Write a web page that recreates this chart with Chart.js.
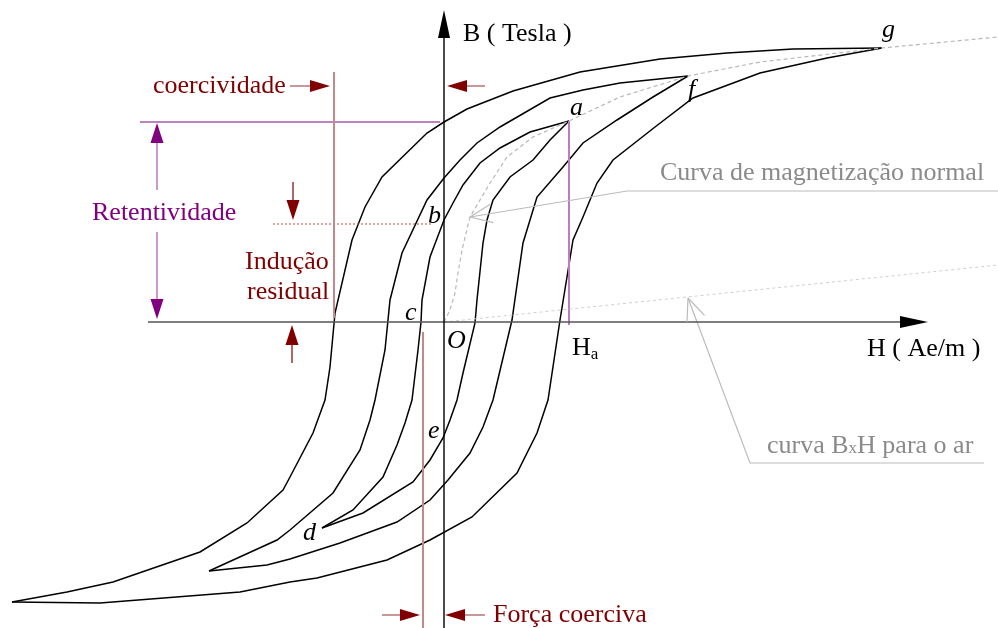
<!DOCTYPE html>
<html>
<head>
<meta charset="utf-8">
<title>Curvas de histerese</title>
<script src="https://cdn.jsdelivr.net/npm/chart.js@4/dist/chart.umd.min.js"></script>
<style>
  html, body { margin: 0; padding: 0; background: #fff; }
  canvas { display: block; }
</style>
</head>
<body>
<canvas id="hyst" width="998" height="628"></canvas>
<script>
// Field strength H (horizontal) and flux density B (vertical), in drawing units,
// with the origin O at the crossing of the two axes.

// Major loop, from g down to negative saturation and back up
const largeLoopFall = [[438,274],[349,273],[283,269],[216,263],[136,250],[69,231],[23,213],[0,200],[-17,189],[-62,145],[-79,115],[-92,82],[-109,9],[-114,-45],[-119,-78],[-131,-111],[-154,-155],[-161,-168],[-197,-201],[-244,-230],[-331,-260],[-377,-270],[-432,-280]];
const largeLoopRise = [[-432,-280],[-344,-281],[-204,-270],[-154,-260],[-127,-256],[-57,-238],[-14,-218],[28,-195],[73,-151],[93,-111],[104,-78],[116,2],[129,82],[139,105],[153,139],[169,162],[211,195],[249,224],[316,249],[383,264],[438,274]];

// Intermediate loop, tip at f
const midLoopFall = [[244,246],[176,239],[139,232],[106,224],[56,195],[33,179],[16,162],[0,144],[-17,122],[-42,69],[-54,22],[-59,-28],[-69,-78],[-74,-98],[-84,-128],[-111,-171],[-154,-208],[-167,-218],[-235,-249]];
const midLoopRise = [[-235,-249],[-177,-243],[-154,-237],[-104,-221],[-47,-200],[-14,-178],[4,-158],[26,-131],[39,-105],[49,-78],[68,2],[79,79],[86,102],[93,125],[119,155],[139,179],[173,202],[209,225],[244,246]];

// Minor loop a-b-c-d-e-a
const smallLoopFall = [[125,201],[86,190],[56,174],[36,159],[19,137],[9,119],[0,102],[-14,65],[-22,22],[-23,0],[-26,-28],[-32,-78],[-39,-101],[-47,-123],[-61,-155],[-91,-188],[-122,-206]];
const smallLoopRise = [[-122,-206],[-81,-191],[-31,-160],[-14,-138],[-1,-116],[6,-98],[13,-78],[19,-51],[31,-1],[33,22],[39,79],[43,102],[49,122],[66,145],[89,162],[106,182],[125,201]];

// Normal magnetization curve O-a-f-g and the B x H line of air
const normalCurve = [[0,0],[6,12],[11,29],[14,49],[18,72],[26,105],[46,139],[63,165],[89,185],[125,201],[176,225],[244,246],[316,260],[438,274],[554,285]];
const airLine = [[0,0],[554,57]];

// Reference marks
const coercivityMark = [[-110,250],[-110,4]];
const coerciveForceMark = [[-21,-10],[-21,-306]];
const retentivityMark = [[-304,200],[-4,200]];
const residualMark = [[-171,98],[-11,98]];
const haMark = [[125,201],[125,-3]];
const normalLeader = [[554,131],[183,131],[26,105]];
const airLeader = [[540,-141],[306,-141],[244,24]];

const pts = a => a.map(([x, y]) => ({ x, y }));

function lineSet(data, color, width, dash) {
  return {
    data: pts(data), showLine: true, fill: false,
    borderColor: color, borderWidth: width, borderDash: dash || [],
    pointRadius: 0, tension: 0, borderCapStyle: 'butt', borderJoinStyle: 'miter'
  };
}

const DARKRED = '#800000';
const PURPLE = '#800080';
const GREY_TEXT = '#8a8a8a';

// Arrows: shaft from -> to, filled head ending at "to"
const arrows = [
  { from: [-296, 0], to: [484, 0], shaft: '#555', head: '#000', len: 28, half: 6, w: 1.6 },
  { from: [0, -306], to: [0, 312], shaft: '#000', head: '#000', len: 28, half: 6, w: 1.4 },
  { from: [-154, 236], to: [-114, 236], shaft: '#b06a6a', head: DARKRED, len: 20, half: 6, w: 1.4 },
  { from: [41, 236], to: [3, 236], shaft: '#b06a6a', head: DARKRED, len: 20, half: 6, w: 1.4 },
  { from: [-287, 132], to: [-287, 199], shaft: '#b070b0', head: PURPLE, len: 20, half: 6.5, w: 1.4 },
  { from: [-287, 90], to: [-287, 3], shaft: '#b070b0', head: PURPLE, len: 20, half: 6.5, w: 1.4 },
  { from: [-151, 140], to: [-151, 102], shaft: DARKRED, head: DARKRED, len: 20, half: 6.5, w: 1.2 },
  { from: [-152, -41], to: [-152, -3], shaft: DARKRED, head: DARKRED, len: 20, half: 6.5, w: 1.2 },
  { from: [-62, -293], to: [-24, -293], shaft: '#b06a6a', head: DARKRED, len: 20, half: 6, w: 1.4 },
  { from: [41, -293], to: [1, -293], shaft: '#b06a6a', head: DARKRED, len: 20, half: 6, w: 1.4 }
];

// Open arrow tips on the leader lines (tip, point the barbs open towards)
const openTips = [
  { tip: [26, 105], back: [183, 131], color: '#bbb' },
  { tip: [244, 24], back: [306, -141], color: '#bbb' }
];

const SERIF = "'Liberation Serif', 'Times New Roman', serif";
const labels = [
  { parts: [['B ( Tesla )', 26]], at: [19, 281], color: '#000' },
  { parts: [['H ( Ae/m )', 26]], at: [423, -34], color: '#000' },
  { parts: [['O', 26, true]], at: [3, -26], color: '#000' },
  { parts: [['H', 26], ['a', 17, false, 4]], at: [128, -33], color: '#000' },
  { parts: [['a', 26, true]], at: [126, 207], color: '#000' },
  { parts: [['f', 26, true]], at: [244, 225], color: '#000' },
  { parts: [['g', 26, true]], at: [438, 285], color: '#000' },
  { parts: [['b', 26, true]], at: [-16, 99], color: '#000' },
  { parts: [['c', 26, true]], at: [-39, 2], color: '#000' },
  { parts: [['d', 26, true]], at: [-141, -218], color: '#000' },
  { parts: [['e', 26, true]], at: [-16, -116], color: '#000' },
  { parts: [['coercividade', 26]], at: [-291, 229], color: DARKRED },
  { parts: [['Indução', 26]], at: [-199, 53], color: DARKRED },
  { parts: [['residual', 26]], at: [-197, 23], color: DARKRED },
  { parts: [['Retentividade', 26]], at: [-352, 102], color: PURPLE },
  { parts: [['Curva de magnetização normal', 26]], at: [216, 142], color: GREY_TEXT },
  { parts: [['curva B', 26], ['x', 17], ['H para o ar', 26]], at: [323, -131], color: GREY_TEXT },
  { parts: [['Força coerciva', 26]], at: [49, -300], color: DARKRED }
];

const annotationPlugin = {
  id: 'annotations',
  afterDatasetsDraw(chart) {
    const { ctx } = chart;
    const X = v => chart.scales.x.getPixelForValue(v);
    const Y = v => chart.scales.y.getPixelForValue(v);
    ctx.save();

    arrows.forEach(a => {
      const x0 = X(a.from[0]), y0 = Y(a.from[1]);
      const x1 = X(a.to[0]), y1 = Y(a.to[1]);
      const dx = x1 - x0, dy = y1 - y0, d = Math.hypot(dx, dy);
      const ux = dx / d, uy = dy / d;
      const bx = x1 - ux * a.len, by = y1 - uy * a.len;
      ctx.strokeStyle = a.shaft; ctx.lineWidth = a.w;
      ctx.beginPath(); ctx.moveTo(x0, y0); ctx.lineTo(bx + ux, by + uy); ctx.stroke();
      ctx.fillStyle = a.head;
      ctx.beginPath();
      ctx.moveTo(x1, y1);
      ctx.lineTo(bx - uy * a.half, by + ux * a.half);
      ctx.lineTo(bx + uy * a.half, by - ux * a.half);
      ctx.closePath(); ctx.fill();
    });

    openTips.forEach(o => {
      const x1 = X(o.tip[0]), y1 = Y(o.tip[1]);
      const x0 = X(o.back[0]), y0 = Y(o.back[1]);
      const ang = Math.atan2(y0 - y1, x0 - x1);
      ctx.strokeStyle = o.color; ctx.lineWidth = 1.2;
      ctx.beginPath();
      [0.4, -0.4].forEach(s => {
        ctx.moveTo(x1, y1);
        ctx.lineTo(x1 + 24 * Math.cos(ang + s), y1 + 24 * Math.sin(ang + s));
      });
      ctx.stroke();
    });

    ctx.textBaseline = 'alphabetic';
    ctx.textAlign = 'left';
    labels.forEach(l => {
      let x = X(l.at[0]);
      const y = Y(l.at[1]);
      ctx.fillStyle = l.color;
      l.parts.forEach(([t, size, italic, dy]) => {
        ctx.font = (italic ? 'italic ' : '') + size + 'px ' + SERIF;
        ctx.fillText(t, x, y + (dy || 0));
        x += ctx.measureText(t).width;
      });
    });
    ctx.restore();
  }
};

new Chart(document.getElementById('hyst'), {
  type: 'scatter',
  data: {
    datasets: [
      lineSet(airLine, '#cfcfcf', 1, [3, 3]),
      lineSet(normalCurve, '#b8b8b8', 1.2, [4, 3]),
      lineSet(normalLeader, '#bbbbbb', 1.2),
      lineSet(airLeader, '#bbbbbb', 1.2),
      lineSet(coercivityMark, '#c08a8a', 2),
      lineSet(coerciveForceMark, '#c08a8a', 2),
      lineSet(retentivityMark, '#a858a8', 1.5),
      lineSet(residualMark, '#c04848', 1, [2, 2]),
      lineSet(haMark, '#c07ac0', 2),
      lineSet(largeLoopFall, '#000', 1.5),
      lineSet(largeLoopRise, '#000', 1.5),
      lineSet(midLoopFall, '#000', 1.5),
      lineSet(midLoopRise, '#000', 1.5),
      lineSet(smallLoopFall, '#000', 1.5),
      lineSet(smallLoopRise, '#000', 1.5)
    ]
  },
  options: {
    responsive: false,
    animation: false,
    devicePixelRatio: 1,
    layout: { padding: 0 },
    plugins: { legend: { display: false }, tooltip: { enabled: false } },
    scales: {
      x: { type: 'linear', min: -444, max: 554, display: false },
      y: { type: 'linear', min: -306, max: 322, display: false }
    }
  },
  plugins: [annotationPlugin]
});
</script>
</body>
</html>
